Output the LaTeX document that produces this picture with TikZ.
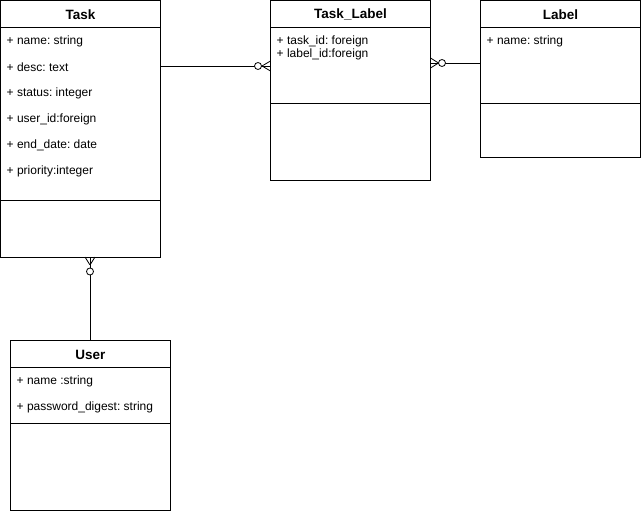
\documentclass[tikz,border=0pt]{standalone}
\usepackage{fontspec}
\setmainfont{Liberation Sans}
\usetikzlibrary{calc}
\frenchspacing
\begin{document}
\begin{tikzpicture}[x=1pt,y=-1pt,
  box/.style={draw, line width=0.8pt, anchor=north west, minimum width=160pt, inner sep=0pt, outer sep=0pt},
  head/.style={inner sep=0pt, font=\bfseries\fontsize{13.5}{15}\selectfont},
  attr/.style={anchor=west, inner sep=0pt, font=\fontsize{12}{14}\selectfont},
  link/.style={line width=0.8pt},
  ring/.style={draw, line width=0.8pt, fill=white}]
\useasboundingbox (0,0) rectangle (641,511);
% boxes
\node[box, minimum height=256.5pt] (task) at (0.5,0.5) {};
\node[box, minimum height=180pt] (tl) at (270.5,0.5) {};
\node[box, minimum height=156.5pt] (lab) at (480.5,0.5) {};
\node[box, minimum height=169.5pt] (user) at (10.5,340.5) {};
% separators
\foreach \b/\s in {task/26.5, task/199.5, tl/26.5, tl/102.5, lab/26.5, lab/102.5, user/26.5, user/82.5}
  \draw[link] ($(\b.north west)+(0,\s)$) -- ($(\b.north east)+(0,\s)$);
% headers
\node[head] (htask) at ($(task.north)+(0,14)$) {Task};
\node[head] (htl) at ($(tl.north)+(0,14)$) {Task\_Label};
\node[head] (hlab) at ($(lab.north)+(0,14)$) {Label};
\node[head] (huser) at ($(user.north)+(0,14)$) {User};
% attributes
\node[attr] (t1) at ($(task.north west)+(6,41)$) {+ name: string};
\node[attr] (t2) at ($(task.north west)+(6,67)$) {+ desc: text};
\node[attr] (t3) at ($(task.north west)+(6,93)$) {+ status: integer};
\node[attr] (t4) at ($(task.north west)+(6,119)$) {+ user\_id:foreign};
\node[attr] (t5) at ($(task.north west)+(6,145)$) {+ end\_date: date};
\node[attr] (t6) at ($(task.north west)+(6,171)$) {+ priority:integer};
\node[attr] (l1) at ($(tl.north west)+(6,41)$) {+ task\_id: foreign};
\node[attr] (l2) at ($(tl.north west)+(6,54)$) {+ label\_id:foreign};
\node[attr] (b1) at ($(lab.north west)+(6,41)$) {+ name: string};
\node[attr] (u1) at ($(user.north west)+(6,41)$) {+ name :string};
\node[attr] (u2) at ($(user.north west)+(6,67)$) {+ password\_digest: string};
% Task -- Task_Label
\coordinate (c1a) at ($(task.north east)+(0,65.5)$);
\coordinate (c1b) at ($(tl.north west)+(0,65.5)$);
\draw[link] (c1a) -- (c1b);
\draw[link] ($(c1b)+(-8.5,0)$) -- ($(c1b)+(0,-5)$) ($(c1b)+(-8.5,0)$) -- ($(c1b)+(0,5)$);
\draw[ring] ($(c1b)+(-12.5,0)$) circle (3.5);
% Task_Label -- Label
\coordinate (c2a) at ($(tl.north east)+(0,62.5)$);
\coordinate (c2b) at ($(lab.north west)+(0,62.5)$);
\draw[link] (c2a) -- (c2b);
\draw[link] ($(c2a)+(8,0)$) -- ($(c2a)+(0,-5)$) ($(c2a)+(8,0)$) -- ($(c2a)+(0,5)$);
\draw[ring] ($(c2a)+(11.5,0)$) circle (3.5);
% Task -- User
\coordinate (c3a) at ($(task.south west)+(89.5,0)$);
\coordinate (c3b) at (c3a |- user.north);
\draw[link] (c3a) -- (c3b);
\draw[link] ($(c3a)+(0,8)$) -- ($(c3a)+(-5,0)$) ($(c3a)+(0,8)$) -- ($(c3a)+(5,0)$);
\draw[ring] ($(c3a)+(0,14.5)$) circle (3.5);
\end{tikzpicture}
\end{document}
